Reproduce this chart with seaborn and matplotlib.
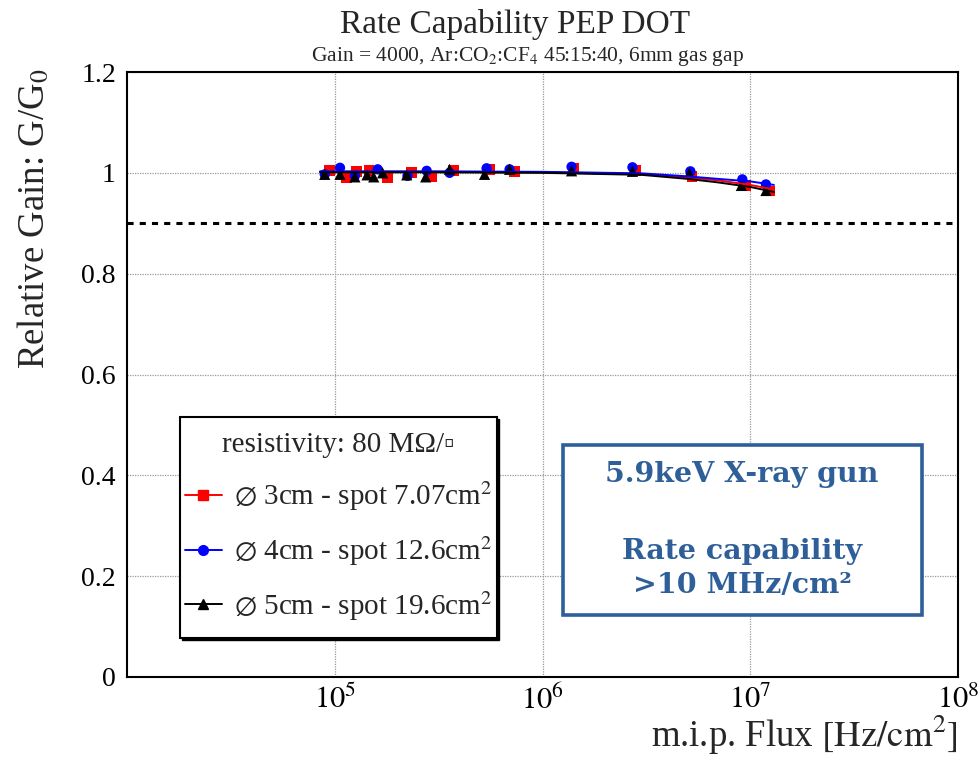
"""Rate capability of PEP DOT detector - relative gain vs flux."""
import matplotlib
matplotlib.use("Agg")
import matplotlib.pyplot as plt
import numpy as np
import pandas as pd
import seaborn as sns
from matplotlib.lines import Line2D
from matplotlib.patches import Rectangle
from matplotlib.ticker import FixedLocator, LogLocator, MultipleLocator

flux_3cm = [9.4e4, 1.14e5, 1.27e5, 1.46e5, 1.79e5, 2.35e5, 2.94e5, 3.74e5,
            5.57e5, 7.35e5, 1.41e6, 2.82e6, 5.24e6, 9.5e6, 1.24e7]
gain_3cm = [1.004, 0.990, 1.003, 1.005, 0.991, 1.000, 0.992, 1.005,
            1.006, 1.002, 1.009, 1.005, 0.992, 0.975, 0.964]

flux_4cm = [8.95e4, 1.06e5, 1.25e5, 1.61e5, 2.24e5, 2.77e5, 3.57e5, 5.38e5,
            6.94e5, 1.38e6, 2.71e6, 5.15e6, 9.16e6, 1.19e7]
gain_4cm = [0.997, 1.010, 0.994, 1.007, 0.994, 1.004, 1.000, 1.009,
            1.007, 1.012, 1.011, 1.003, 0.987, 0.977]

flux_5cm = [8.95e4, 1.06e5, 1.25e5, 1.43e5, 1.54e5, 1.70e5, 2.22e5, 2.74e5,
            3.57e5, 5.26e5, 6.94e5, 1.38e6, 2.71e6, 5.09e6, 9.06e6, 1.19e7]
gain_5cm = [0.997, 0.997, 0.992, 0.996, 0.992, 1.000, 0.996, 0.992,
            1.007, 0.997, 1.007, 1.004, 1.003, 0.999, 0.975, 0.965]

# fit curves, points
fit_flux = [8.5e4, 3e5, 1e6, 3e6, 5e6, 7e6, 1e7, 1.3e7]
fit_3cm = [1.002, 1.002, 1.001, 0.997, 0.991, 0.985, 0.976, 0.967]
fit_4cm = [1.003, 1.003, 1.002, 0.999, 0.993, 0.988, 0.983, 0.976]
fit_5cm = [1.001, 1.001, 1.000, 0.996, 0.988, 0.981, 0.972, 0.962]

series = ["3cm", "4cm", "5cm"]
labels = [r"$\varnothing$ 3cm - spot 7.07cm$^2$",
          r"$\varnothing$ 4cm - spot 12.6cm$^2$",
          r"$\varnothing$ 5cm - spot 19.6cm$^2$"]
colors = ["#ff0000", "#0000ff", "#000000"]
markers = ["s", "o", "^"]
sizes = [60, 55, 65]

y_ticks = [0, 0.2, 0.4, 0.6, 0.8, 1.0, 1.2]
y_ticklabels = ["0", "0.2", "0.4", "0.6", "0.8", "1", "1.2"]
x_ticks = [1e5, 1e6, 1e7, 1e8]
x_ticklabels = [r"$10^{5}$", r"$10^{6}$", r"$10^{7}$", r"$10^{8}$"]

points = pd.concat([
    pd.DataFrame({"flux": flux_3cm, "gain": gain_3cm, "spot": "3cm"}),
    pd.DataFrame({"flux": flux_4cm, "gain": gain_4cm, "spot": "4cm"}),
    pd.DataFrame({"flux": flux_5cm, "gain": gain_5cm, "spot": "5cm"}),
])
fits = pd.DataFrame({"flux": fit_flux * 3,
                     "gain": fit_3cm + fit_4cm + fit_5cm,
                     "spot": ["3cm"] * 8 + ["4cm"] * 8 + ["5cm"] * 8})

sns.set_theme(style="white")
SERIF = ["Liberation Serif", "DejaVu Serif", "DejaVu Sans"]
plt.rcParams["font.family"] = SERIF
plt.rcParams["mathtext.fontset"] = "stix"
plt.rcParams["axes.linewidth"] = 1.5

fig = plt.figure(figsize=(9.79, 7.61), dpi=100)
ax = fig.add_axes([127 / 979, 1 - 677 / 761, 831 / 979, 605 / 761])

for spot, col, mk, sz in zip(series, colors, markers, sizes):
    sns.scatterplot(data=points[points["spot"] == spot], x="flux", y="gain",
                    color=col, marker=mk, s=sz, edgecolor="none", ax=ax,
                    legend=False, zorder=3)
for spot, col in zip(series, colors):
    sns.lineplot(data=fits[fits["spot"] == spot], x="flux", y="gain",
                 color=col, lw=1.4, ax=ax, legend=False, zorder=4)

ax.axhline(0.9, color="black", lw=2.2, ls=(0, (2, 2)), zorder=2)

ax.set_xscale("log")
ax.set_xlim(1e4, 1e8)
ax.set_ylim(0, 1.2)
ax.set_xlabel("")
ax.set_ylabel("")

ax.xaxis.set_major_locator(FixedLocator(x_ticks))
ax.set_xticklabels(x_ticklabels)
ax.xaxis.set_minor_locator(LogLocator(base=10, subs=np.arange(2, 10)))
ax.set_yticks(y_ticks)
ax.set_yticklabels(y_ticklabels)
ax.yaxis.set_minor_locator(MultipleLocator(0.05))

ax.tick_params(which="both", direction="in", top=False, right=False,
               labelsize=20, colors="black", width=1.5)
ax.tick_params(axis="x", which="major", length=13, pad=6)
ax.tick_params(axis="x", which="minor", length=6.5)
ax.tick_params(axis="y", which="major", length=18, pad=8)
ax.tick_params(axis="y", which="minor", length=9)
for lab in ax.get_xticklabels():
    lab.set_fontsize(22)

ax.grid(True, which="major", color="#999999", ls=(0, (1, 1)), lw=0.9)
for sp in ax.spines.values():
    sp.set_color("black")

# legend box (ROOT style with thin shadow)
lx0, ly0 = 53 / 831, 39 / 605
lw_, lh_ = 317 / 831, 221 / 605
ax.add_patch(Rectangle((lx0 + 0.002, ly0 - 0.003), lw_, lh_, transform=ax.transAxes,
                       facecolor="black", edgecolor="black", zorder=5))
ax.add_patch(Rectangle((lx0, ly0), lw_, lh_, transform=ax.transAxes,
                       facecolor="white", edgecolor="black", lw=1.5, zorder=6))
handles = [Line2D([], [], color=c, marker=m, markersize=7, lw=1.4)
           for c, m in zip(colors, markers)]
leg = ax.legend(handles, labels, loc="center", frameon=False,
                bbox_to_anchor=(lx0 + lw_ / 2, ly0 + lh_ / 2),
                title="resistivity: 80 M\u03a9/\u25ab",
                prop={"family": SERIF, "size": 21},
                title_fontproperties={"family": SERIF, "size": 21},
                handlelength=1.3, handletextpad=0.4, labelspacing=0.72,
                borderaxespad=0)
leg.set_zorder(7)

# highlight box
blue = "#2e5f99"
ax.add_patch(Rectangle((436 / 831, 62 / 605), 359 / 831, 170 / 605,
                       transform=ax.transAxes, facecolor="white",
                       edgecolor=blue, lw=2.6, zorder=6))
box_font = dict(family="DejaVu Serif", weight="bold", size=20.5, color=blue,
                ha="center", va="center", transform=ax.transAxes, zorder=7)
ax.text(0.740, 0.334, "5.9keV X-ray gun", **box_font)
ax.text(0.740, 0.208, "Rate capability", **box_font)
ax.text(0.740, 0.152, ">10 MHz/cm\u00b2", **box_font)

fig.text(515 / 979, 1 - 25 / 761, "Rate Capability PEP DOT",
         ha="center", va="center", fontsize=24)
fig.text(528 / 979, 1 - 57 / 761,
         r"Gain = 4000, Ar:CO$_2$:CF$_4$ 45:15:40, 6mm gas gap",
         ha="center", va="center", fontsize=15.5)
fig.text(35 / 979, 1 - 68 / 761, r"Relative Gain: G/G$_0$",
         rotation=90, ha="center", va="top", fontsize=26.5)
fig.text(958 / 979, 1 - 757 / 761,
         r"m.i.p. Flux $\left[\mathrm{Hz/cm^2}\right]$",
         ha="right", va="bottom", fontsize=26.5)

fig.savefig("out.png", dpi=100)
